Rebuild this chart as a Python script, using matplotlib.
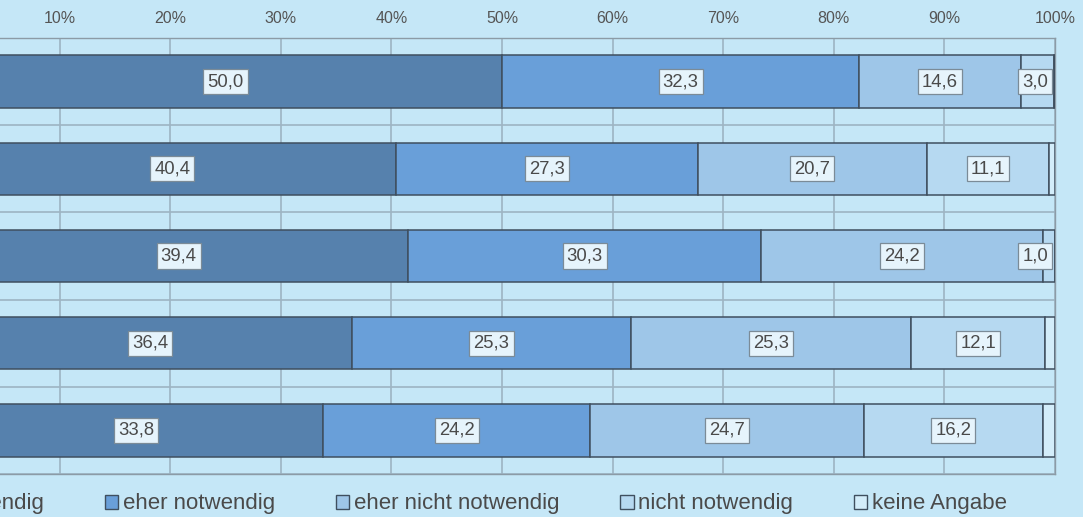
import matplotlib
matplotlib.use("Agg")
import matplotlib.pyplot as plt
from matplotlib.patches import Patch
import numpy as np

plt.rcParams['font.family'] = ['Liberation Sans', 'DejaVu Sans']

# ---- data ----
series_names = ["sehr notwendig", "eher notwendig", "eher nicht notwendig",
                "nicht notwendig", "keine Angabe"]
sehr_notwendig = [50.0, 40.4, 39.4, 36.4, 33.8]
eher_notwendig = [32.3, 27.3, 30.3, 25.3, 24.2]
eher_nicht_notwendig = [14.6, 20.7, 24.2, 25.3, 24.7]
nicht_notwendig = [3.0, 11.1, 1.0, 12.1, 16.2]
keine_angabe = [0.1, 0.5, 0.0, 0.9, 1.1]
show_labels = [True, True, True, True, False]
x_ticks = [10, 20, 30, 40, 50, 60, 70, 80, 90, 100]
x_ticklabels = ["10%", "20%", "30%", "40%", "50%", "60%", "70%", "80%", "90%", "100%"]

colors = ["#5681ad", "#699fd9", "#9ec6e8", "#b6d9f1", "#d3edfa"]
bg = "#c5e7f7"
edge = "#3f4f5f"
grid_c = "#9db4c3"
text_c = "#4a4a4a"

W, H = 1083, 517
fig = plt.figure(figsize=(W / 100, H / 100), dpi=100, facecolor=bg)
# axes spans from x=-51px to 1055px, y from 38px to 474px (top-origin)
ax = fig.add_axes([-51 / W, 1 - 474 / H, 1106 / W, 436 / H])
ax.set_facecolor(bg)

data = np.array([sehr_notwendig, eher_notwendig, eher_nicht_notwendig,
                 nicht_notwendig, keine_angabe])
totals = data.sum(axis=0)
shares = data / totals * 100
ypos = np.arange(len(sehr_notwendig))

left = np.zeros(len(ypos))
for i in range(len(series_names)):
    ax.barh(ypos, shares[i], left=left, height=0.6, color=colors[i],
            edgecolor=edge, linewidth=1.1, zorder=3, label=series_names[i])
    if show_labels[i]:
        for j in range(len(ypos)):
            v = data[i][j]
            if v <= 0:
                continue
            cx = min(left[j] + shares[i][j] / 2, 98.2)
            ax.text(cx, ypos[j], f"{v:.1f}".replace(".", ","),
                    ha="center", va="center", fontsize=13.3, color=text_c,
                    zorder=5,
                    bbox=dict(boxstyle="square,pad=0.22", facecolor="#e6f4fc",
                              edgecolor="#7b8b97", linewidth=0.9))
    left = left + shares[i]

ax.set_xlim(0, 100)
ax.set_ylim(len(ypos) - 0.5, -0.5)
ax.set_xticks(x_ticks)
ax.set_xticklabels(x_ticklabels)
ax.xaxis.tick_top()
ax.tick_params(axis="x", length=0, pad=9, labelsize=11.5, labelcolor="#555555")
ax.set_yticks(np.arange(len(ypos) + 1) - 0.5)
ax.set_yticklabels([])
ax.tick_params(axis="y", length=0)
ax.grid(True, color=grid_c, linewidth=1.2, zorder=0)
ax.set_axisbelow(True)
for s in ax.spines.values():
    s.set_color("#8c9ba6")
    s.set_linewidth(1.0)

handles = [Patch(facecolor=colors[i], edgecolor=edge, linewidth=1.0)
           for i in range(len(series_names))]
fig.legend(handles, series_names, loc="center", ncol=5,
           bbox_to_anchor=(441 / W, 1 - 504 / H), frameon=False,
           fontsize=16, labelcolor=text_c, handlelength=0.6,
           handleheight=0.6, handletextpad=0.2, columnspacing=2.75,
           borderpad=0, borderaxespad=0)

fig.savefig("out.png", dpi=100, facecolor=bg)
